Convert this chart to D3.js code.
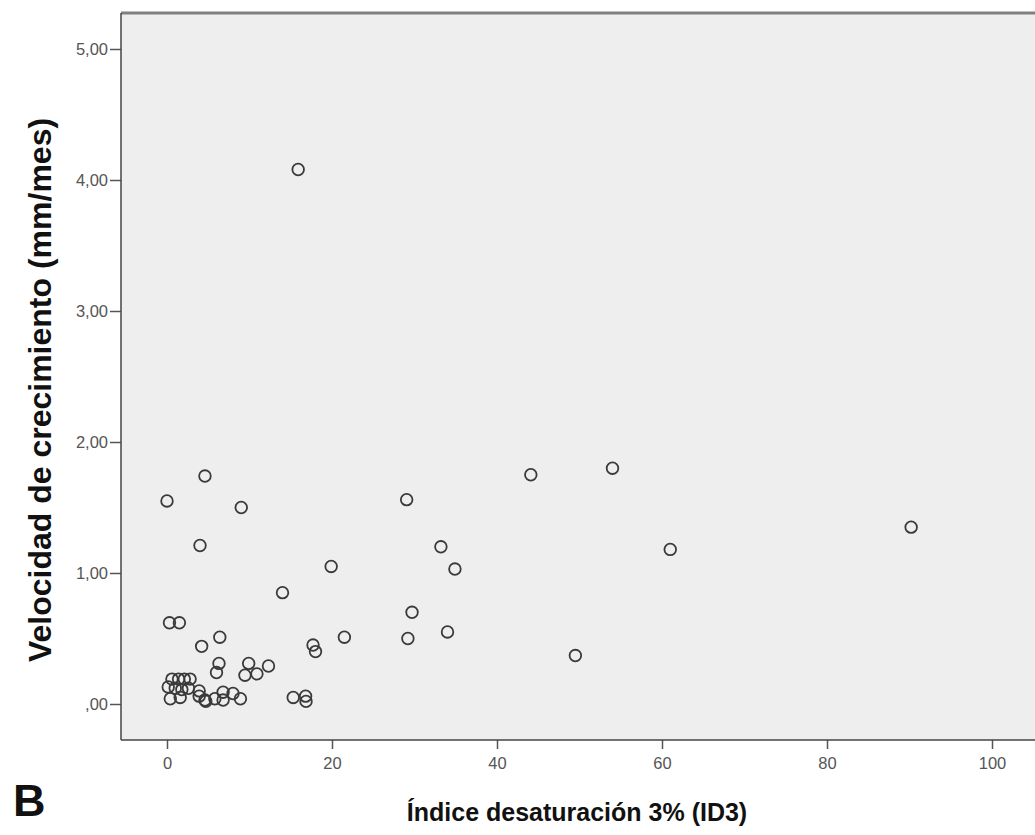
<!DOCTYPE html>
<html>
<head>
<meta charset="utf-8">
<script src="https://cdn.jsdelivr.net/npm/d3@7"></script>
<style>
  body { margin: 0; background: #fff; }
  svg { display: block; font-family: "Liberation Sans", Arial, sans-serif; }
</style>
</head>
<body>
<svg id="chart" width="1035" height="835"></svg>
<script>
// ID3 (%) and growth rate (mm/mes) per patient
var id3 = [15.9, 0.0, 4.6, 9.0, 4.0, 29.05, 44.1, 54.0, 90.2, 33.2,
	34.9, 61.0, 19.9, 14.0, 0.3, 1.5, 4.2, 6.4, 29.7, 34.0,
	29.2, 21.5, 17.7, 18.0, 49.5, 6.3, 6.0, 9.9, 12.3, 10.9,
	9.45, 15.3, 16.8, 16.85, 8.9, 8.0, 6.8, 6.8, 5.8, 4.6,
	3.9, 3.9, 4.7, 0.6, 1.4, 2.1, 2.8, 0.15, 1.0, 1.8,
	2.6, 0.4, 1.6];
var velocidad = [4.08, 1.55, 1.74, 1.50, 1.21, 1.56, 1.75, 1.80, 1.35, 1.20,
	1.03, 1.18, 1.05, 0.85, 0.62, 0.62, 0.44, 0.51, 0.70, 0.55,
	0.50, 0.51, 0.45, 0.40, 0.37, 0.31, 0.24, 0.31, 0.29, 0.23,
	0.22, 0.05, 0.06, 0.02, 0.04, 0.08, 0.09, 0.03, 0.04, 0.03,
	0.10, 0.06, 0.02, 0.19, 0.19, 0.19, 0.19, 0.13, 0.12, 0.11,
	0.12, 0.04, 0.05];
var xTicks = [0, 20, 40, 60, 80, 100];
var yTicks = [0, 1, 2, 3, 4, 5];
var yTickLabels = [",00", "1,00", "2,00", "3,00", "4,00", "5,00"];

var points = id3.map(function(d, i) { return {x: d, y: velocidad[i]}; });

var svg = d3.select("#chart"),
	plot = {left: 121, top: 13, right: 1040, bottom: 740},
	x = d3.scaleLinear().domain([0, 100]).range([167, 992]),
	y = d3.scaleLinear().domain([0, 5]).range([704, 49]);

// plot background
svg.append("rect")
	.attr("x", plot.left).attr("y", plot.top)
	.attr("width", plot.right - plot.left).attr("height", plot.bottom - plot.top)
	.attr("fill", "#eeeeee");

svg.append("line")
	.attr("x1", plot.left).attr("x2", plot.right)
	.attr("y1", plot.top).attr("y2", plot.top)
	.attr("stroke", "#808080").attr("stroke-width", 3);

// axes
var xAxis = svg.append("g")
	.attr("transform", "translate(0," + plot.bottom + ")")
	.call(d3.axisBottom(x).tickValues(xTicks).tickSize(9).tickPadding(8).tickSizeOuter(0));
xAxis.select(".domain").remove();
xAxis.append("line")
	.attr("x1", plot.left).attr("x2", plot.right)
	.attr("stroke", "#444").attr("stroke-width", 1.5);

var yAxis = svg.append("g")
	.attr("transform", "translate(" + plot.left + ",0)")
	.call(d3.axisLeft(y).tickValues(yTicks).tickSize(11).tickPadding(2)
		.tickFormat(function(d, i) { return yTickLabels[i]; }));
yAxis.select(".domain").remove();
yAxis.append("line")
	.attr("y1", plot.top).attr("y2", plot.bottom)
	.attr("stroke", "#444").attr("stroke-width", 1.5);

svg.selectAll(".tick line").attr("stroke", "#555").attr("stroke-width", 1.5);
svg.selectAll(".tick text")
	.attr("fill", "#555")
	.attr("font-size", 16.5)
	.attr("font-family", "'Liberation Sans', Arial, sans-serif");

// points
svg.selectAll(".pt")
	.data(points)
	.enter().append("circle")
	.attr("class", "pt")
	.attr("cx", function(d) { return x(d.x); })
	.attr("cy", function(d) { return y(d.y); })
	.attr("r", 5.8)
	.attr("fill", "none")
	.attr("stroke", "#3a3a3a")
	.attr("stroke-width", 1.8);

// titles
svg.append("text")
	.attr("x", 577).attr("y", 821)
	.attr("text-anchor", "middle")
	.style("font-size", "25px").style("font-weight", "bold")
	.attr("fill", "#111")
	.text("Índice desaturación 3% (ID3)");

svg.append("text")
	.attr("transform", "translate(51,390) rotate(-90)")
	.attr("text-anchor", "middle")
	.style("font-size", "32px").style("font-weight", "bold")
	.attr("fill", "#111")
	.text("Velocidad de crecimiento (mm/mes)");

svg.append("text")
	.attr("x", 13).attr("y", 816)
	.style("font-size", "45px").style("font-weight", "bold")
	.attr("fill", "#111")
	.text("B");
</script>
</body>
</html>
